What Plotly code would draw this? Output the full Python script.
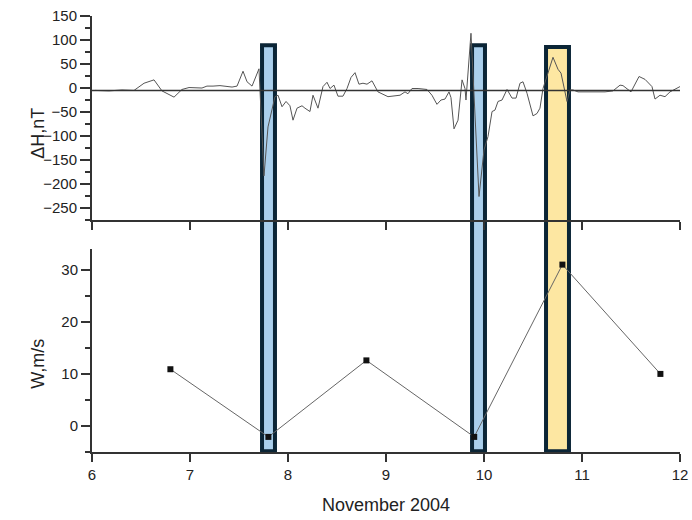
import plotly.graph_objects as go

# ---- data ----
dh_x = [6.031, 6.173, 6.306, 6.429, 6.531, 6.633, 6.714, 6.837, 6.918, 6.990,
        7.122, 7.173, 7.235, 7.306, 7.429, 7.480, 7.541, 7.582, 7.633, 7.704,
        7.755, 7.796, 7.867, 7.898, 7.939, 7.980, 8.020, 8.051, 8.092, 8.143,
        8.173, 8.224, 8.255, 8.306, 8.357, 8.398, 8.429, 8.469, 8.510, 8.561,
        8.602, 8.643, 8.684, 8.724, 8.765, 8.806, 8.857, 8.918, 9.020, 9.143,
        9.194, 9.224, 9.265, 9.327, 9.418, 9.469, 9.520, 9.561, 9.602, 9.643,
        9.663, 9.694, 9.735, 9.776, 9.806, 9.816, 9.867, 9.949, 10.000, 10.041,
        10.082, 10.112, 10.143, 10.184, 10.235, 10.286, 10.327, 10.367, 10.398, 10.439,
        10.500, 10.541, 10.571, 10.602, 10.704, 10.755, 10.786, 10.847, 10.878, 10.908,
        10.959, 11.051, 11.163, 11.235, 11.316, 11.388, 11.418, 11.500, 11.582, 11.643,
        11.714, 11.745, 11.796, 11.847, 11.898, 11.949, 12.000]
dh_vals = [-5, -6, -4, -5, 10, 17, -6, -19, -3, 1,
           0, 4, 4, 5, 2, 4, 35, 13, 4, 40,
           -183, -81, -18, -15, -39, -28, -37, -67, -42, -37,
           -42, -49, -15, -42, 3, 12, -1, 6, -17, -17,
           -1, 22, 32, 8, 10, 8, 15, -8, -18, -15,
           -8, -12, -1, -1, -3, -15, -34, -25, -23, -8,
           -20, -85, -67, 17, -1, -25, 114, -226, -129, -101,
           -49, -46, -28, -25, -3, -21, -21, 10, 13, -11,
           -58, -53, -42, -1, 64, 39, 31, -28, -4, -4,
           -8, -8, -9, -8, -6, 6, 5, -8, 24, 18,
           3, -23, -15, -18, -8, -3, 3]
dh_baseline = -5

w_x = [6.8, 7.8, 8.8, 9.9, 10.8, 11.8]
w_vals = [10.9, -2.1, 12.6, -2.1, 31.0, 10.0]

# highlighted intervals (day of November 2004)
band_x0 = [7.735, 9.878, 10.633]
band_x1 = [7.867, 10.010, 10.867]
band_fill = ["#aacfec", "#aacfec", "#fde7a2"]
band_top = [0.933, 0.933, 0.929]

x_ticks = [6, 7, 8, 9, 10, 11, 12]

FONT = "Liberation Sans, Arial, sans-serif"
AX = "#333333"

fig = go.Figure()

fig.add_trace(go.Scatter(x=dh_x, y=dh_vals, mode="lines",
                         line=dict(color="#555555", width=1),
                         xaxis="x", yaxis="y", showlegend=False))
fig.add_trace(go.Scatter(x=[6, 12], y=[dh_baseline, dh_baseline], mode="lines",
                         line=dict(color="#333333", width=1.5),
                         xaxis="x", yaxis="y", showlegend=False))
fig.add_trace(go.Scatter(x=w_x, y=w_vals, mode="lines+markers",
                         line=dict(color="#666666", width=1),
                         marker=dict(symbol="square", size=6, color="#111111"),
                         xaxis="x2", yaxis="y2", showlegend=False))

shapes = []
for x0, x1, fc, top in zip(band_x0, band_x1, band_fill, band_top):
    shapes.append(dict(type="rect", xref="x", yref="paper", x0=x0, x1=x1,
                       y0=0.002, y1=top, fillcolor=fc,
                       line=dict(color="#0b2536", width=4), layer="below"))

axis_common = dict(showline=True, linecolor=AX, linewidth=2, showgrid=False,
                   zeroline=False, ticks="outside", tickcolor=AX, tickwidth=1.5,
                   automargin=False,
                   tickfont=dict(family=FONT, size=15, color="#222222"))

fig.update_layout(
    width=692, height=520,
    margin=dict(l=92, r=12, t=16, b=68, autoexpand=False),
    paper_bgcolor="white", plot_bgcolor="white",
    font=dict(family=FONT, color="#222222"),
    shapes=shapes,
    xaxis=dict(domain=[0, 1], anchor="y", range=[6, 12], tickvals=x_ticks,
               showticklabels=False, ticklen=8, **axis_common),
    yaxis=dict(domain=[0.532, 1], anchor="x", range=[-275, 150], dtick=50, tick0=0,
               ticklen=10, minor=dict(dtick=25, ticklen=5, ticks="outside",
                                      tickcolor=AX, tickwidth=1.5),
               **axis_common),
    xaxis2=dict(domain=[0, 1], anchor="y2", range=[6, 12], tickvals=x_ticks,
                ticklen=8, **axis_common),
    yaxis2=dict(domain=[0, 0.4656], anchor="x2", range=[-5, 34], dtick=10, tick0=0,
                ticklen=9, minor=dict(dtick=5, ticklen=5, ticks="outside",
                                      tickcolor=AX, tickwidth=1.5),
                **axis_common),
    annotations=[
        dict(text="ΔH,nT", xref="paper", yref="paper", x=-0.092, y=0.732,
             xanchor="center", yanchor="middle", textangle=-90, showarrow=False,
             font=dict(family=FONT, size=18, color="#222222")),
        dict(text="W,m/s", xref="paper", yref="paper", x=-0.092, y=0.202,
             xanchor="center", yanchor="middle", textangle=-90, showarrow=False,
             font=dict(family=FONT, size=18, color="#222222")),
        dict(text="November 2004", xref="paper", yref="paper", x=0.5, y=-0.1216,
             xanchor="center", yanchor="middle", showarrow=False,
             font=dict(family=FONT, size=18, color="#222222")),
    ],
)

fig.write_html("out.html")
